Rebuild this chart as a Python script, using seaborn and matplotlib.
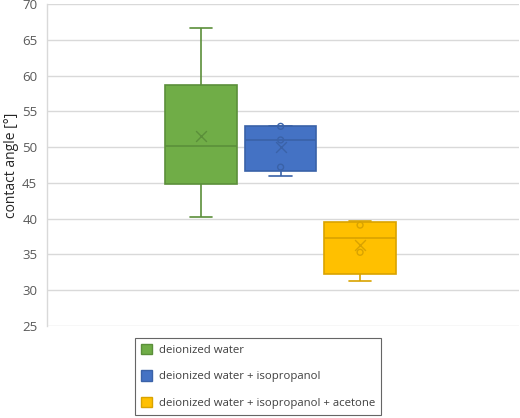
import pandas as pd
import matplotlib
matplotlib.use("Agg")
import matplotlib.pyplot as plt
import seaborn as sns
from matplotlib.patches import Patch

# ----------------------------------------------------------------------
# Data
# ----------------------------------------------------------------------
SOLUTIONS = ['deionized water',
             'deionized water + isopropanol',
             'deionized water + isopropanol + acetone']
MINS = [40.2, 46.0, 31.3]
Q1S = [44.9, 46.6, 32.2]
MEDIANS = [50.1, 51.0, 37.3]
Q3S = [58.7, 52.9, 39.5]
MAXS = [66.7, 52.9, 39.7]
MEANS = [51.5, 50.0, 36.3]
INNER_POINTS = {
    'deionized water + isopropanol': [47.2, 51.0, 52.9],
    'deionized water + isopropanol + acetone': [35.3, 39.1],
}
Y_TICKS = list(range(25, 71, 5))

FILLS = ['#70AD47', '#4472C4', '#FFC000']
EDGES = ['#5B8F3A', '#3A62A8', '#D9A300']


def build_frame():
    rows = []
    for name, lo, q1, med, q3, hi in zip(SOLUTIONS, MINS, Q1S, MEDIANS, Q3S, MAXS):
        # five sorted values -> numpy's quartiles land exactly on q1/med/q3
        for v in (lo, q1, med, q3, hi):
            rows.append({'solution': name, 'angle': v})
    return pd.DataFrame(rows)


def main():
    sns.set_style('white')
    plt.rcParams['font.family'] = ['Open Sans', 'DejaVu Sans']

    df = build_frame()
    fig = plt.figure(figsize=(5.2, 4.18), dpi=100)
    ax = fig.add_axes([47 / 520, 1 - 326 / 418, 472 / 520, 322 / 418])

    for i, name in enumerate(SOLUTIONS):
        sub = df[df['solution'] == name]
        sns.boxplot(data=sub, x=[i] * len(sub), y='angle', native_scale=True,
                    whis=(0, 100), width=0.9, fliersize=0, ax=ax, capwidths=0.28,
                    boxprops=dict(facecolor=FILLS[i], edgecolor=EDGES[i], linewidth=1.2),
                    medianprops=dict(color=EDGES[i], linewidth=1.2),
                    whiskerprops=dict(color=EDGES[i], linewidth=1.2),
                    capprops=dict(color=EDGES[i], linewidth=1.2))
        ax.scatter([i], [MEANS[i]], marker='x', s=60, color=EDGES[i], linewidths=1.0, zorder=5)
        pts = INNER_POINTS.get(name, [])
        if pts:
            ax.scatter([i] * len(pts), pts, marker='o', s=18, facecolor='none',
                       edgecolor=EDGES[i], linewidths=1.0, zorder=5)

    ax.set_xlim(-1.94, 4.0)
    ax.set_ylim(25, 70)
    ax.set_yticks(Y_TICKS)
    ax.set_xticks([])
    ax.set_xlabel('')
    ax.set_ylabel('contact angle [°]', fontsize=10, color='#262626')
    ax.yaxis.set_label_coords(-28 / 472, 0.5)
    ax.tick_params(axis='y', labelsize=9.5, colors='#595959', length=0, pad=7)
    ax.yaxis.grid(True, color='#D9D9D9', linewidth=1.0)
    ax.set_axisbelow(True)
    for side in ['top', 'right', 'bottom']:
        ax.spines[side].set_visible(False)
    ax.spines['left'].set_color('#D9D9D9')
    ax.spines['left'].set_linewidth(1.0)

    handles = [Patch(facecolor=f, edgecolor=e, label=n) for f, e, n in zip(FILLS, EDGES, SOLUTIONS)]
    leg = fig.legend(handles=handles, loc='upper left',
                     bbox_to_anchor=(135 / 520, 1 - 338 / 418), borderaxespad=0,
                     frameon=True, fancybox=False, fontsize=8.2,
                     handlelength=1.0, handleheight=1.0, handletextpad=0.6,
                     labelspacing=1.3, borderpad=0.5, labelcolor='#404040')
    leg.get_frame().set_edgecolor('#404040')
    leg.get_frame().set_linewidth(0.8)

    fig.savefig('out.png', dpi=100)


if __name__ == '__main__':
    main()
